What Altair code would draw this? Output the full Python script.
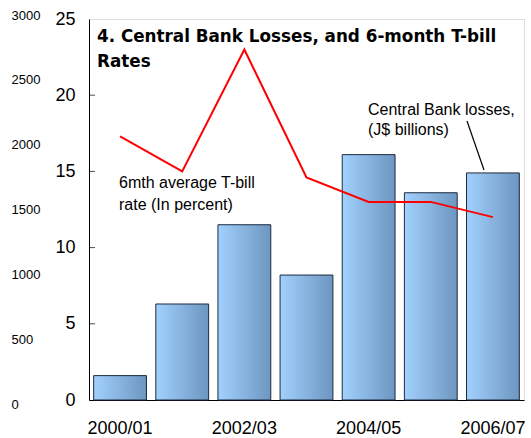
import altair as alt
import pandas as pd

# ---- data ----
years = ["2000/01", "2001/02", "2002/03", "2003/04", "2004/05", "2005/06", "2006/07"]
losses = [1.6, 6.3, 11.5, 8.2, 16.1, 13.6, 14.9]          # bars (inner 0-25 axis)
tbill = [17.3, 15.0, 23.0, 14.6, 13.0, 13.0, 12.0]        # red line, percent
inner_ticks = [0, 5, 10, 15, 20, 25]
inner_inward_ticks = [5, 10, 15, 20]
outer_ticks = [0, 500, 1000, 1500, 2000, 2500, 3000]
shown_labels = ["2000/01", "2002/03", "2004/05", "2006/07"]

title_lines = ["4. Central Bank Losses, and 6-month T-bill", "Rates"]
tbill_note = ["6mth average T-bill", "rate (In percent)"]
loss_note = ["Central Bank losses,", "(J$ billions)"]

FONT = "Liberation Sans"

df = pd.DataFrame({"year": years, "losses": losses, "tbill": tbill})
df_ticks = pd.DataFrame({"v": inner_inward_ticks})
df_outer = pd.DataFrame({"v": outer_ticks})

xscale = alt.Scale(domain=years, paddingInner=0.15, paddingOuter=0.075)
yscale = alt.Scale(domain=[0, 25], nice=False)

xaxis = alt.Axis(values=shown_labels, title=None, labelFont=FONT, labelFontSize=18,
                 labelColor="black", labelPadding=19, ticks=False, domain=True,
                 domainColor="black", labelAngle=0)
yaxis = alt.Axis(values=inner_ticks, title=None, orient="left", labelFont=FONT,
                 labelFontSize=18, labelColor="black", labelPadding=14, ticks=False,
                 domain=True, domainColor="black", grid=False)

grad = alt.Gradient(
    gradient="linear",
    stops=[alt.GradientStop(color="#a2d1fd", offset=0),
           alt.GradientStop(color="#6d96c0", offset=1)],
    x1=0, x2=1, y1=0, y2=0,
)

bars = alt.Chart(df).mark_bar(fill=grad, stroke="#1c2b40", strokeWidth=1).encode(
    x=alt.X("year:N", scale=xscale, axis=xaxis, sort=years),
    y=alt.Y("losses:Q", scale=yscale, axis=yaxis),
)

line = alt.Chart(df).mark_line(color="#ff0000", strokeWidth=2).encode(
    x=alt.X("year:N", scale=xscale, axis=xaxis, sort=years),
    y=alt.Y("tbill:Q", scale=yscale, axis=yaxis),
)

ticks = alt.Chart(df_ticks).mark_tick(orient="horizontal", size=6, thickness=1,
                                      color="black").encode(
    y=alt.Y("v:Q", scale=yscale, axis=yaxis),
    x=alt.value(3),
)

inner = alt.layer(bars, line, ticks)

outer = alt.Chart(df_outer).mark_point(opacity=0).encode(
    y=alt.Y("v:Q", scale=alt.Scale(domain=[0, 3000], range=[385, -4], nice=False),
            axis=alt.Axis(values=outer_ticks, title=None, orient="left", labelFont=FONT,
                          labelFontSize=13, labelColor="black", labelAlign="left",
                          format="d", labelPadding=78, ticks=False, domain=False,
                          grid=False)),
    x=alt.value(0),
)

title_txt = alt.Chart(pd.DataFrame({"t": [title_lines]})).mark_text(
    font="DejaVu Sans", fontSize=16.8, fontWeight="bold", align="left",
    baseline="alphabetic", lineHeight=25, color="black").encode(
    text="t:N", x=alt.value(8), y=alt.value(23))

tb_txt = alt.Chart(pd.DataFrame({"t": [tbill_note]})).mark_text(
    font=FONT, fontSize=16, align="left", baseline="alphabetic",
    lineHeight=22, color="black").encode(
    text="t:N", x=alt.value(30), y=alt.value(169))

loss_txt = alt.Chart(pd.DataFrame({"t": [loss_note]})).mark_text(
    font=FONT, fontSize=16, align="left", baseline="alphabetic",
    lineHeight=20, color="black").encode(
    text="t:N", x=alt.value(279), y=alt.value(96))

leader = alt.Chart(pd.DataFrame({"a": [0]})).mark_rule(color="black", strokeWidth=1.2).encode(
    x=alt.value(378), x2=alt.value(395), y=alt.value(102), y2=alt.value(151))

chart = alt.layer(inner, outer, title_txt, tb_txt, loss_txt, leader).resolve_scale(
    y="independent"
).properties(
    width=435, height=381,
    autosize=alt.AutoSizeParams(type="none"),
    padding={"left": 89, "top": 19, "right": 7, "bottom": 38},
).configure_view(stroke="#555555", strokeWidth=1).configure(background="white")

chart.save("out.html", embed_options={"renderer": "svg", "actions": False})
